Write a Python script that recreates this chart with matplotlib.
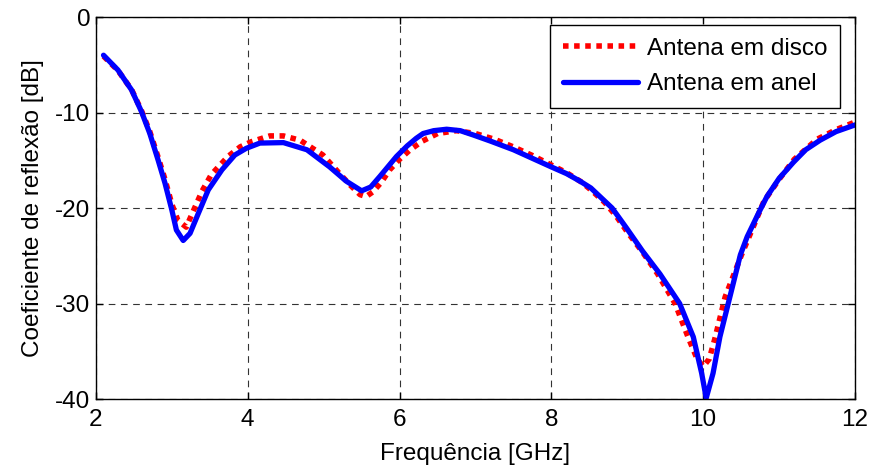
import matplotlib
matplotlib.use("Agg")
import matplotlib.pyplot as plt

# Blue curve: Antena em anel
freq_anel = [2.10, 2.29, 2.47, 2.60, 2.71, 2.82, 2.91, 3.00, 3.06, 3.15, 3.24, 3.35, 3.48,
             3.66, 3.83, 3.98, 4.16, 4.47, 4.78, 5.08, 5.30, 5.50, 5.62, 5.74, 5.96, 6.10,
             6.22, 6.31, 6.45, 6.62, 6.80, 6.97, 7.20, 7.50, 7.75, 8.00, 8.20, 8.38, 8.52,
             8.64, 8.80, 8.99, 9.20, 9.43, 9.69, 9.87, 9.98, 10.04, 10.13, 10.22, 10.33,
             10.49, 10.58, 10.75, 10.84, 11.00, 11.19, 11.35, 11.54, 11.75, 12.00]
s11_anel = [-4.0, -5.55, -7.64, -9.9, -12.2, -15.0, -17.4, -20.2, -22.3, -23.4, -22.65, -20.55,
            -18.1, -16.0, -14.45, -13.75, -13.2, -13.15, -13.9, -15.7, -17.2, -18.2, -17.8,
            -16.7, -14.6, -13.5, -12.7, -12.2, -11.9, -11.75, -11.9, -12.35, -13.0, -13.9,
            -14.8, -15.7, -16.4, -17.2, -17.9, -18.8, -20.0, -22.1, -24.5, -26.9, -30.0,
            -33.5, -37.3, -39.9, -37.3, -33.5, -30.0, -24.9, -23.0, -20.2, -18.8, -16.9,
            -15.2, -13.9, -12.9, -12.0, -11.3]

# Red dotted curve: Antena em disco
freq_disco = [2.10, 2.29, 2.47, 2.60, 2.71, 2.82, 2.91, 3.00, 3.08, 3.19, 3.30, 3.40, 3.52,
              3.74, 3.90, 4.05, 4.29, 4.47, 4.69, 4.99, 5.21, 5.35, 5.48, 5.56, 5.65, 5.76,
              5.87, 6.00, 6.14, 6.30, 6.50, 6.75, 7.00, 7.25, 7.50, 7.75, 8.00, 8.20, 8.40,
              8.55, 8.70, 8.85, 9.00, 9.20, 9.40, 9.63, 9.80, 9.92, 10.00, 10.08, 10.15,
              10.29, 10.50, 10.80, 11.00, 11.20, 11.50, 11.75, 12.00]
s11_disco = [-4.1, -5.6, -7.6, -9.8, -12.0, -14.7, -17.0, -19.6, -21.3, -22.0, -20.0, -18.2,
             -16.5, -14.6, -13.6, -13.05, -12.45, -12.45, -12.9, -14.45, -16.4, -17.6, -18.6,
             -18.8, -18.3, -17.3, -16.0, -14.9, -13.9, -13.0, -12.2, -11.9, -12.2, -12.8,
             -13.6, -14.5, -15.5, -16.3, -17.3, -18.3, -19.4, -20.8, -22.5, -24.6, -26.9,
             -30.0, -33.5, -35.8, -36.6, -35.8, -33.8, -29.3, -25.0, -19.3, -17.0, -14.9,
             -12.8, -11.8, -11.0]

x_ticks = [2, 4, 6, 8, 10, 12]
y_ticks = [-40, -30, -20, -10, 0]

fig = plt.figure(figsize=(8.72, 4.70), dpi=100)
ax = fig.add_axes([0.110, 0.151, 0.8705, 0.8128])

ax.plot(freq_disco, s11_disco, color="#ff0000", lw=4, linestyle=(0, (1, 1)),
        label="Antena em disco")
ax.plot(freq_anel, s11_anel, color="#0000ff", lw=3.8, linestyle="-",
        solid_joinstyle="round", solid_capstyle="round", label="Antena em anel")

ax.set_xlim(2, 12)
ax.set_ylim(-40, 0)
ax.set_xticks(x_ticks)
ax.set_yticks(y_ticks)

main_font = ["Liberation Sans", "DejaVu Sans"]
fs = 17.5

ax.set_xticklabels([str(v) for v in x_ticks], family=main_font, fontsize=fs)
ax.set_yticklabels([str(v) for v in y_ticks], family=main_font, fontsize=fs)
ax.set_xlabel("Frequência [GHz]", family=main_font, fontsize=fs, labelpad=9)
ax.set_ylabel("Coeficiente de reflexão [dB]", family=main_font, fontsize=fs, labelpad=8)

ax.tick_params(direction="in", length=5, width=1, top=True, right=True)
ax.tick_params(axis="x", pad=7)
ax.tick_params(axis="y", pad=4)
ax.grid(True, color="#333333", linestyle=(0, (6, 5)), linewidth=0.8)
for sp in ax.spines.values():
    sp.set_linewidth(1.0)
    sp.set_color("black")

leg = ax.legend(loc="upper right", bbox_to_anchor=(0.980, 0.979), borderaxespad=0,
                fancybox=False, edgecolor="black", framealpha=1,
                prop={"family": main_font, "size": fs}, handlelength=3.1,
                handletextpad=0.35, labelspacing=0.55, borderpad=0.52)
leg.get_frame().set_linewidth(1.0)

fig.savefig("out.png", dpi=100)
